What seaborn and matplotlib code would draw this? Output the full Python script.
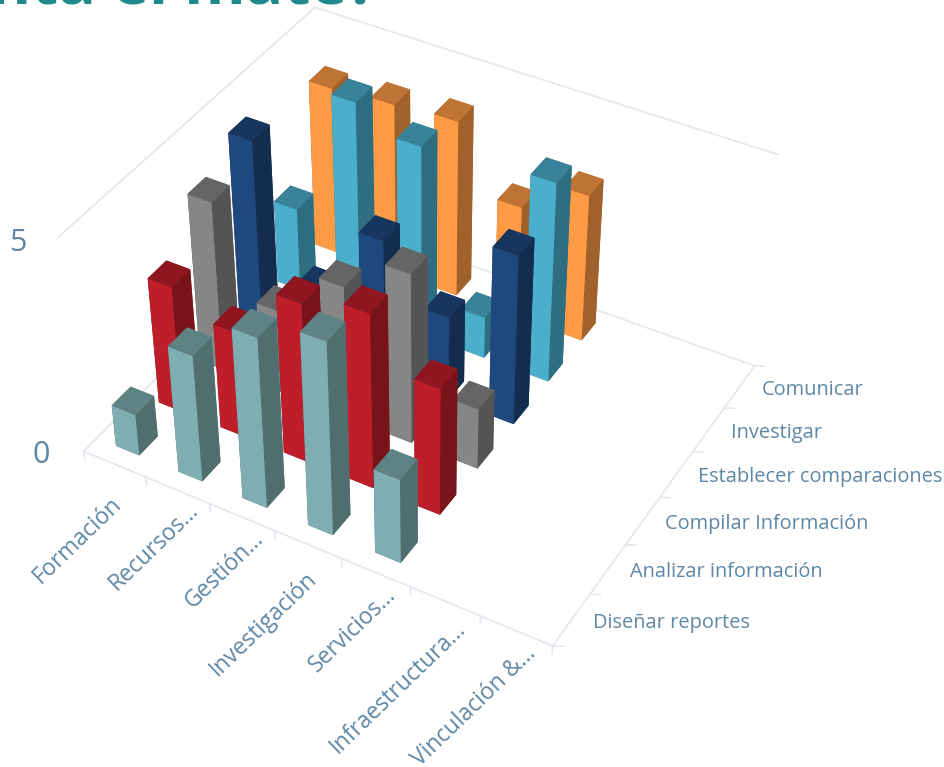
import numpy as np
import matplotlib
matplotlib.use("Agg")
import matplotlib.pyplot as plt
import seaborn as sns
from mpl_toolkits.mplot3d import proj3d

categories = ["Formación", "Recursos...", "Gestión...", "Investigación", "Servicios...", "Infraestructura...", "Vinculación &..."]
rows = ["Diseñar reportes", "Analizar información", "Compilar Información", "Establecer comparaciones", "Investigar", "Comunicar"]
disenar = [1, 3, 4, 4.5, 2]
analizar = [3, 2.5, 3.75, 4.1, 3]
compilar = [4, 2, 3.15, 4, 1.45]
establecer = [4.5, 1.5, 3.25, 2, 4]
investigar = [2, 5, 4.5, 1, 4.7]
comunicar = [4, 4.1, 4.2, 2.7, 3.5]
series = [disenar, analizar, compilar, establecer, investigar, comunicar]
base_colors = ["#7FADB2", "#BE1E2A", "#868686", "#1F487E", "#4BAFCC", "#FF9A45"]
x_offsets = [(-5, -28), (9, -8), (10, -10), (-3, -22), (8, -10), (9, -15), (8, -11)]

W, H = 945, 767
sns.set_theme(style="white")
plt.rcParams['font.family'] = ['Open Sans', 'DejaVu Sans']
fig = plt.figure(figsize=(W/100, H/100), dpi=100)
ax = fig.add_subplot(projection='3d')
ax.set_xlim(0, 7, view_margin=0)
ax.set_ylim(0, 6, view_margin=0)
ax.set_zlim(0, 5, view_margin=0)

# camera fitted to the axis corners of the reference
ax.view_init(39.446, -60.184)
ax.set_proj_type('persp', focal_length=0.6307)
ax.set_box_aspect((1.1655, 1, 0.5983))
left, top, size = 47.7, -53.1, 736.2
ax.set_position([left/W, (H-top-size)/H, size/W, size/H])
ax.set_axis_off()
ax.computed_zorder = False

line = "#E2E7ED"
text_color = "#5E87A5"
for a_, b_ in [((0,0,0),(7,0,0)),((7,0,0),(7,6,0)),((0,0,0),(0,6,0)),((0,6,0),(7,6,0)),((0,0,5),(0,6,5)),((0,6,5),(7,6,5))]:
    ax.plot(*zip(a_, b_), color=line, lw=1.2, zorder=1)
for i in range(len(categories)+1):
    ax.plot([i, i], [0, 0], [0, -.2], color=line, lw=1.2, zorder=1)
for j in range(len(rows)+1):
    ax.plot([7, 7.12], [j, j+.06], [0, 0], color=line, lw=1.2, zorder=1)

for r, vals in enumerate(series):
    col = np.array(matplotlib.colors.to_rgb(base_colors[r]))
    faces = [col*.75, col*.75, col, col*.75, col*.63, col*.63]
    for i, v in enumerate(vals):
        ax.bar3d(i+.31, r+.30, 0, .375, .43, v, color=faces, shade=False, edgecolor='none', zorder=10+(5-r)*10+i)

M = ax.get_proj()
def label(x, y, z, txt, off, **kw):
    xp, yp, _ = proj3d.proj_transform(x, y, z, M)
    ax.annotate(txt, (xp, yp), xytext=off, textcoords='offset pixels', color=text_color, annotation_clip=False, **kw)

for i, name in enumerate(categories):
    label(i+.5, 0, 0, name, x_offsets[i], fontsize=16.5, rotation=44, ha='right', va='top', rotation_mode='anchor')
for j, name in enumerate(rows):
    label(7, j+.5, 0, name, (22, -3), fontsize=14.4, ha='left', va='center')
for z, off in [(0, (-42, -4)), (5, (-41, -6))]:
    label(0, 0, z, str(z), off, fontsize=22, ha='center', va='center')

fig.text(377/W, 1-3/H, "nta el mate?", fontsize=45, fontweight='bold', color="#1F8A8C", ha='right', va='baseline')
fig.savefig("out.png", dpi=100)
